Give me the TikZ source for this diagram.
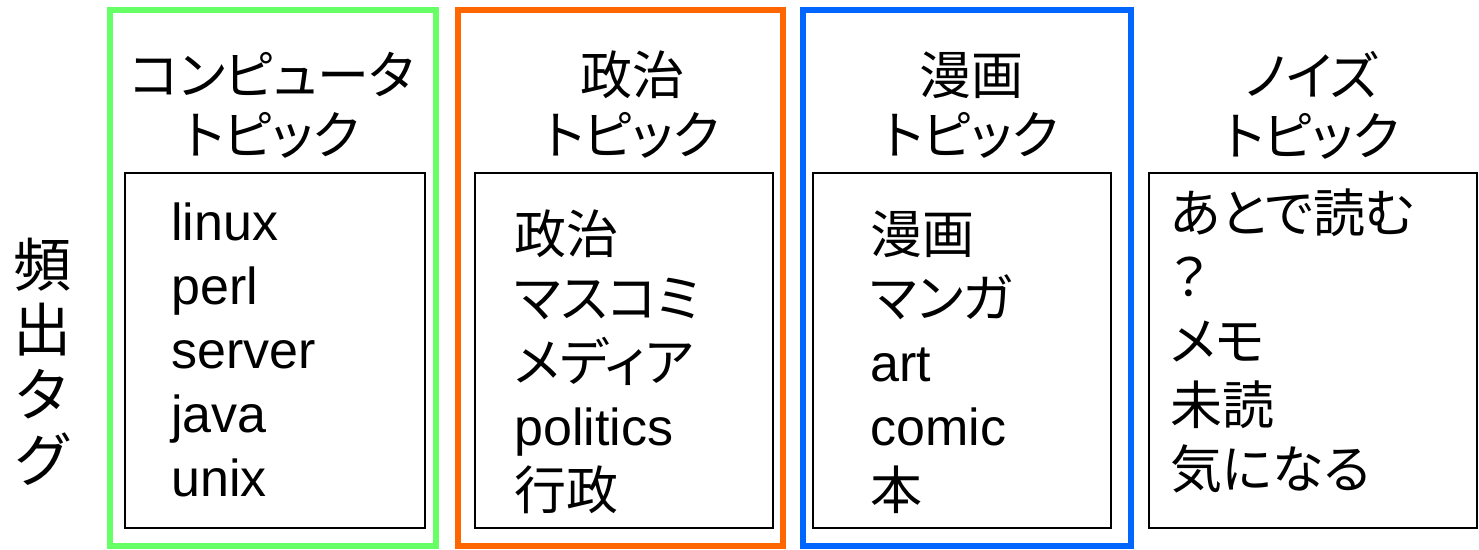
\documentclass[tikz,border=0pt]{standalone}
\usepackage{fontspec}
\setmainfont{Liberation Sans}
\newfontfamily\jp[RawFeature=+palt]{Noto Sans CJK JP}
\usetikzlibrary{positioning}
\definecolor{topicgreen}{HTML}{66FF66}
\definecolor{topicorange}{HTML}{FF6600}
\definecolor{topicblue}{HTML}{0066FF}

\begin{document}
\begin{tikzpicture}[x=0.5pt,y=-0.5pt,
  topic/.style={line width=3pt},
  tagbox/.style={draw,line width=1pt},
  title/.style={align=center,inner sep=0pt,font=\jp\fontsize{26}{30}\selectfont},
  items/.style={align=left,anchor=west,inner sep=0pt,font=\fontsize{26}{32}\selectfont}]
\useasboundingbox (0,0) rectangle (1479,550);
\node[align=center,inner sep=0pt,font=\jp\fontsize{29}{32.5}\selectfont] at (42,362) (freq) {頻\\出\\タ\\グ};
% topic frames
\draw[topic,topicgreen] (110,10) rectangle (436,546);
\draw[topic,topicorange] (458,10) rectangle (783,546);
\draw[topic,topicblue] (803,10) rectangle (1131,546);
% tag boxes
\draw[tagbox] (125,173) rectangle (425,528);
\draw[tagbox] (475,173) rectangle (773,528);
\draw[tagbox] (813,173) rectangle (1111,528);
\draw[tagbox] (1149,173) rectangle (1477,528);
\node[title] at (272,105) (computer) {コンピュータ\\トピック};
\node[title] at (632,105) (politics) {政治\\トピック};
\node[title] at (971,105) (manga) {漫画\\トピック};
\node[title] at (1312,105) (noise) {ノイズ\\トピック};
\node[items] at (171,350) (computertags) {linux\\perl\\server\\java\\unix};
\node[items] at (514,362) (politicstags) {{\jp 政治}\\{\jp マスコミ}\\{\jp メディア}\\politics\\{\jp 行政}};
\node[items] at (870,362) (mangatags) {{\jp 漫画}\\{\jp マンガ}\\art\\comic\\{\jp 本}};
\node[items,font=\jp\fontsize{26}{32}\selectfont] at (1170,341) (noisetags) {あとで読む\\？\\メモ\\未読\\気になる};
\end{tikzpicture}
\end{document}
